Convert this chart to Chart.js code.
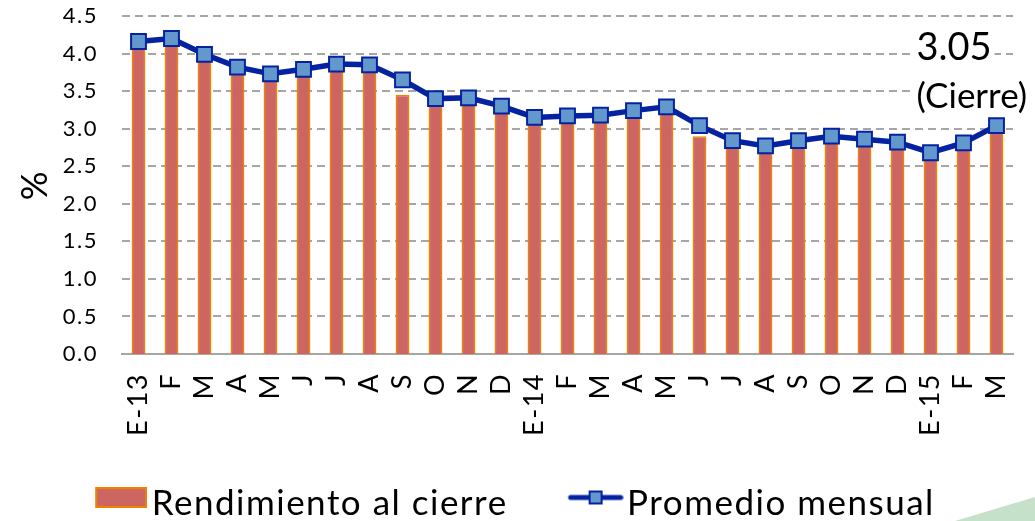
<!DOCTYPE html>
<html>
<head>
<meta charset="utf-8">
<script src="https://cdn.jsdelivr.net/npm/chart.js@4.4.1/dist/chart.umd.min.js"></script>
<style>
  html, body { margin: 0; padding: 0; background: #fff; overflow: hidden; }
  #wrap { position: relative; width: 1035px; height: 521px; }
  #deco { position: absolute; left: 0; top: 0; width: 1035px; height: 521px; background: #c6e1ca;
          clip-path: polygon(955px 521px, 1035px 497px, 1035px 521px); }
  #rateChart { position: absolute; left: 0; top: 0; }
</style>
</head>
<body>
<div id="wrap">
  <div id="deco"></div>
  <canvas id="rateChart" width="1035" height="521"></canvas>
</div>
<script>
// month labels, Jan 2013 .. Mar 2015
const months = ['E-13', 'F', 'M', 'A', 'M', 'J', 'J', 'A', 'S', 'O', 'N', 'D',
                'E-14', 'F', 'M', 'A', 'M', 'J', 'J', 'A', 'S', 'O', 'N', 'D',
                'E-15', 'F', 'M'];

// end of month yield (bars)
const closeValues = [4.10, 4.15, 3.93, 3.77, 3.67, 3.73, 3.81, 3.80, 3.45, 3.35, 3.36, 3.25,
                     3.10, 3.12, 3.13, 3.19, 3.24, 2.90, 2.79, 2.72, 2.79, 2.85, 2.81, 2.77,
                     2.63, 2.76, 3.05];

// monthly average (line)
const avgValues = [4.16, 4.20, 3.99, 3.82, 3.73, 3.79, 3.86, 3.85, 3.65, 3.40, 3.41, 3.30,
                   3.15, 3.17, 3.18, 3.24, 3.29, 3.04, 2.84, 2.77, 2.84, 2.90, 2.86, 2.82,
                   2.68, 2.81, 3.04];

const seriesNames = ['Rendimiento al cierre', 'Promedio mensual'];
const yMin = 0, yMax = 4.5, yStep = 0.5;

const barFill = '#cd6660', barEdge = '#f08200';
const lineBlue = '#0522a0', markFill = '#6398cc';
const gridGray = '#a6a6a6';
const fontName = 'Lato, "Open Sans", sans-serif';

// legend icons (transparent margin on the left / bottom to place them like the original)
function makeBarIcon() {
  const c = document.createElement('canvas');
  c.width = 82; c.height = 33;
  const g = c.getContext('2d');
  g.fillStyle = barFill;
  g.fillRect(30, 0, 52, 21);
  g.strokeStyle = barEdge;
  g.lineWidth = 2;
  g.strokeRect(31, 1, 50, 19);
  return c;
}
function makeLineIcon() {
  const c = document.createElement('canvas');
  c.width = 84; c.height = 28;
  const g = c.getContext('2d');
  g.strokeStyle = lineBlue;
  g.lineWidth = 5;
  g.lineCap = 'round';
  g.beginPath(); g.moveTo(31, 8); g.lineTo(81, 8); g.stroke();
  g.fillStyle = markFill;
  g.fillRect(49, 1, 14, 14);
  g.lineWidth = 2;
  g.strokeRect(50, 2, 12, 12);
  return c;
}

// wider letter spacing, closer to the original typeface
const spacing = {
  id: 'spacing',
  beforeLayout(chart) { chart.ctx.letterSpacing = '1.5px'; },
  beforeDraw(chart) { chart.ctx.letterSpacing = '1.5px'; }
};

// dashed horizontal grid lines
const dashedGrid = {
  id: 'dashedGrid',
  beforeDatasetsDraw(chart) {
    const {ctx, chartArea, scales: {y}} = chart;
    ctx.save();
    ctx.strokeStyle = gridGray;
    ctx.lineWidth = 2;
    ctx.setLineDash([8, 5]);
    y.ticks.forEach(t => {
      if (t.value <= yMin) return;
      const py = Math.round(y.getPixelForValue(t.value));
      ctx.beginPath();
      ctx.moveTo(chartArea.left, py);
      ctx.lineTo(chartArea.right, py);
      ctx.stroke();
    });
    ctx.restore();
  }
};

// "3.05 (Cierre)" note next to the last month
const closeNote = {
  id: 'closeNote',
  afterDraw(chart) {
    const ctx = chart.ctx;
    const last = closeValues.length - 1;
    const left = chart.scales.x.getPixelForValue(last) - 80;
    ctx.save();
    ctx.letterSpacing = '0px';
    ctx.textAlign = 'left';
    ctx.textBaseline = 'middle';
    ctx.font = '38px ' + fontName;
    const txt = closeValues[last].toFixed(2);
    let w = ctx.measureText(txt).width;
    ctx.fillStyle = '#fff';
    ctx.fillRect(left - 3, 30, w + 6, 34);
    ctx.fillStyle = '#000';
    ctx.fillText(txt, left, 48);
    ctx.font = '35px ' + fontName;
    w = ctx.measureText('(Cierre)').width;
    ctx.fillStyle = '#fff';
    ctx.fillRect(left - 3, 79, w + 6, 38);
    ctx.fillStyle = '#000';
    ctx.fillText('(Cierre)', left, 97);
    ctx.restore();
  }
};

const ctx = document.getElementById('rateChart').getContext('2d');
const rateChart = new Chart(ctx, {
  type: 'bar',
  data: {
    labels: months,
    datasets: [{
      label: seriesNames[0],
      data: closeValues,
      backgroundColor: barFill,
      borderColor: barEdge,
      borderWidth: 1.5,
      categoryPercentage: 1,
      barPercentage: 0.42,
      order: 2
    }, {
      type: 'line',
      label: seriesNames[1],
      data: avgValues,
      borderColor: lineBlue,
      borderWidth: 5.5,
      pointStyle: 'rect',
      pointRadius: 10.5,
      pointBorderWidth: 2,
      pointBackgroundColor: markFill,
      pointBorderColor: lineBlue,
      tension: 0,
      order: 1
    }]
  },
  options: {
    responsive: false,
    devicePixelRatio: 1,
    animation: false,
    layout: { padding: { top: 16, right: 22, left: 0, bottom: -10 } },
    plugins: {
      tooltip: { enabled: false },
      legend: {
        position: 'bottom',
        labels: {
          usePointStyle: true,
          pointStyleWidth: 56,
          padding: 46,
          color: '#000',
          font: { family: fontName, size: 35 },
          generateLabels: () => [
            { text: seriesNames[0], pointStyle: makeBarIcon(), datasetIndex: 0, hidden: false, lineWidth: 0 },
            { text: seriesNames[1], pointStyle: makeLineIcon(), datasetIndex: 1, hidden: false, lineWidth: 0 }
          ]
        }
      }
    },
    scales: {
      x: {
        grid: { display: false, drawTicks: false },
        border: { color: gridGray, width: 2 },
        ticks: {
          color: '#000',
          font: { family: fontName, size: 27 },
          minRotation: 90,
          maxRotation: 90,
          autoSkip: false,
          padding: 19
        },
        afterFit: (scale) => {
          scale.height = 86;
          scale.paddingLeft = 0;
          scale.paddingRight = 0;
        }
      },
      y: {
        min: yMin,
        max: yMax,
        ticks: {
          stepSize: yStep,
          color: '#000',
          padding: 24,
          font: { family: fontName, size: 22 },
          callback: (v) => Number(v).toFixed(1)
        },
        grid: { display: false, drawTicks: false },
        border: { display: false },
        title: {
          display: true,
          text: '%',
          color: '#000',
          font: { family: fontName, size: 36 },
          padding: { top: 14, bottom: 0 }
        },
        afterFit: (scale) => {
          scale.width = 122;
          scale.paddingTop = 0;
          scale.paddingBottom = 0;
        }
      }
    }
  },
  plugins: [spacing, dashedGrid, closeNote]
});
</script>
</body>
</html>
